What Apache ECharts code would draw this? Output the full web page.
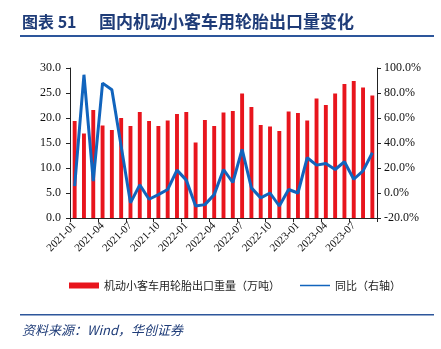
<!DOCTYPE html>
<html>
<head>
<meta charset="utf-8">
<script src="https://cdn.jsdelivr.net/npm/echarts@6/dist/echarts.min.js"></script>
<style>html,body{margin:0;padding:0;background:#fff;}#c{width:441px;height:349px;}</style>
</head>
<body>
<div id="c"></div>
<script>
var categories = ['2021-01','2021-02','2021-03','2021-04','2021-05','2021-06','2021-07','2021-08','2021-09','2021-10','2021-11','2021-12',
  '2022-01','2022-02','2022-03','2022-04','2022-05','2022-06','2022-07','2022-08','2022-09','2022-10','2022-11','2022-12',
  '2023-01','2023-02','2023-03','2023-04','2023-05','2023-06','2023-07','2023-08','2023-09'];
var exportVolume = [19.4,16.9,21.6,18.5,17.6,20.0,18.4,21.2,19.4,18.4,19.5,20.8,
  21.2,15.1,19.6,18.4,21.1,21.4,24.9,22.2,18.6,18.3,17.4,21.3,
  21.0,19.5,23.9,22.6,24.9,26.8,27.4,26.1,24.5];
var yoy = [5.5,94.6,9.5,87.9,82.6,37.4,-7.9,6.5,-5.0,-1.3,2.8,18.3,
  10.3,-10.4,-9.3,-1.3,18.8,8.4,34.9,4.1,-3.9,0.0,-10.4,2.8,
  0.0,28.2,22.3,23.6,18.8,25.0,11.0,17.7,32.2];
var barName = '机动小客车用轮胎出口重量（万吨）';
var lineName = '同比（右轴）';
var titleLabel = '图表 51';
var titleText = '国内机动小客车用轮胎出口量变化';
var sourceText = '资料来源：Wind，华创证券';

var chart = echarts.init(document.getElementById('c'));
var serif = '"Liberation Serif", "DejaVu Serif", serif';
var cjk = '"Noto Sans CJK SC", sans-serif';
var lineIcon = 'path://M0,0L0.01,0L0.01,0.01Z M0,2.3L30,2.3L30,3.7L0,3.7Z M0,6L0.01,6L0.01,5.99Z';
chart.setOption({
  animation: false,
  backgroundColor: '#fff',
  grid: {left: 70, right: 64, top: 68, bottom: 131},
  legend: {
    left: 64, top: 275, itemWidth: 30, itemHeight: 6, itemGap: 20,
    textStyle: {fontFamily: cjk, fontSize: 11, color: '#222'},
    data: [{name: barName, icon: 'rect'}, {name: lineName, icon: lineIcon, itemStyle: {color: '#1164bd'}}]
  },
  xAxis: {
    type: 'category', data: categories, boundaryGap: true,
    axisLine: {lineStyle: {color: '#222', width: 1}},
    axisTick: {show: true, interval: 2, length: 4, alignWithLabel: false, lineStyle: {color: '#222'}},
    axisLabel: {interval: 2, rotate: 45, margin: 6, fontFamily: serif, fontSize: 11, color: '#111'}
  },
  yAxis: [{
    type: 'value', min: 0, max: 30, interval: 5, position: 'left',
    axisLine: {show: true, lineStyle: {color: '#222'}},
    axisTick: {show: true, length: 4, lineStyle: {color: '#222'}},
    splitLine: {show: false},
    axisLabel: {margin: 9, fontFamily: serif, fontSize: 12, color: '#111', formatter: function(v){return v.toFixed(1);}}
  }, {
    type: 'value', min: -20, max: 100, interval: 20, position: 'right',
    axisLine: {show: true, lineStyle: {color: '#222'}},
    axisTick: {show: true, length: 4, lineStyle: {color: '#222'}},
    splitLine: {show: false},
    axisLabel: {margin: 7, fontFamily: serif, fontSize: 12, color: '#111', formatter: function(v){return v.toFixed(1) + '%';}}
  }],
  series: [{
    name: barName, type: 'bar', data: exportVolume, yAxisIndex: 0,
    barWidth: '42%', itemStyle: {color: '#e8151d'}
  }, {
    name: lineName, type: 'line', data: yoy, yAxisIndex: 1,
    symbol: 'none', lineStyle: {color: '#1164bd', width: 3}, itemStyle: {color: '#1164bd'}
  }],
  graphic: [
    {type: 'text', left: 22, top: 14, style: {text: titleLabel, fontFamily: cjk, fontWeight: 'bold', fontSize: 16, fill: '#1f3c78'}},
    {type: 'text', left: 99, top: 13, style: {text: titleText, fontFamily: cjk, fontWeight: 'bold', fontSize: 17, fill: '#1f3c78'}},
    {type: 'rect', shape: {x: 20, y: 35, width: 414, height: 2}, style: {fill: '#2d569b'}},
    {type: 'rect', shape: {x: 20, y: 314, width: 414, height: 1.5}, style: {fill: '#2d569b'}},
    {type: 'text', left: 22, top: 324, style: {text: sourceText, fontFamily: cjk, fontStyle: 'italic', fontSize: 13, fill: '#1f3c78'}}
  ]
});
</script>
</body>
</html>
